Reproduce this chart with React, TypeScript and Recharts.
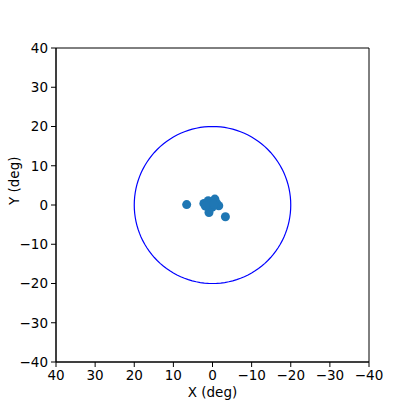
import React from 'react';
import {
  ScatterChart,
  Scatter,
  XAxis,
  YAxis,
  ReferenceArea,
} from 'recharts';

// source positions (deg)
const sourceX = [6.6, 2.2, 1.1, -0.6, -1.6, 0.9, 0.1, -3.3, 0.5, -1.0, 1.8, -0.3];
const sourceY = [0.1, 0.4, 1.1, 1.5, -0.2, -1.9, -0.6, -3.0, 0.3, 0.5, -0.3, 0.2];
const sources = sourceX.map((x, i) => ({ x, y: sourceY[i] }));

// field-of-view ring
const ringRadius = 20;
const ringSteps = 120;
const ring = Array.from({ length: ringSteps + 1 }, (_, i) => {
  const t = (i / ringSteps) * 2 * Math.PI;
  return { x: ringRadius * Math.cos(t), y: ringRadius * Math.sin(t) };
});

const ticks = [-40, -30, -20, -10, 0, 10, 20, 30, 40];
const fmt = (v: number) => String(v).replace('-', '\u2212');

const font = 'DejaVu Sans, sans-serif';

export default function App() {
  return (
    <div style={{ position: 'absolute', left: 0, top: 0, width: 415, height: 415, background: '#fff' }}>
      <ScatterChart width={415} height={415} margin={{ top: 48, right: 46, left: 0, bottom: 0 }}>
        <XAxis
          type="number"
          dataKey="x"
          domain={[-40, 40]}
          ticks={ticks}
          reversed
          allowDataOverflow
          tickFormatter={fmt}
          height={53}
          tickSize={5}
          tickMargin={3}
          stroke="#000"
          tick={{ fill: '#000', fontSize: 13.5, fontFamily: font }}
          label={{ value: 'X (deg)', position: 'insideBottom', offset: 18, fill: '#000', fontSize: 13.5, fontFamily: font }}
        />
        <YAxis
          type="number"
          dataKey="y"
          domain={[-40, 40]}
          ticks={ticks}
          allowDataOverflow
          tickFormatter={fmt}
          width={56}
          tickSize={5}
          tickMargin={3}
          stroke="#000"
          tick={{ fill: '#000', fontSize: 13.5, fontFamily: font }}
          label={{ value: 'Y (deg)', angle: -90, position: 'insideLeft', offset: 14, fill: '#000', fontSize: 13.5, fontFamily: font }}
        />
        <ReferenceArea x1={-40} x2={40} y1={-40} y2={40} stroke="#000" strokeWidth={1} fill="none" fillOpacity={0} strokeOpacity={1} />
        <Scatter
          data={ring}
          line={{ stroke: 'blue', strokeWidth: 1.2 }}
          shape={() => null}
          isAnimationActive={false}
        />
        <Scatter data={sources} fill="#1f77b4" shape="circle" isAnimationActive={false} />
      </ScatterChart>
    </div>
  );
}
